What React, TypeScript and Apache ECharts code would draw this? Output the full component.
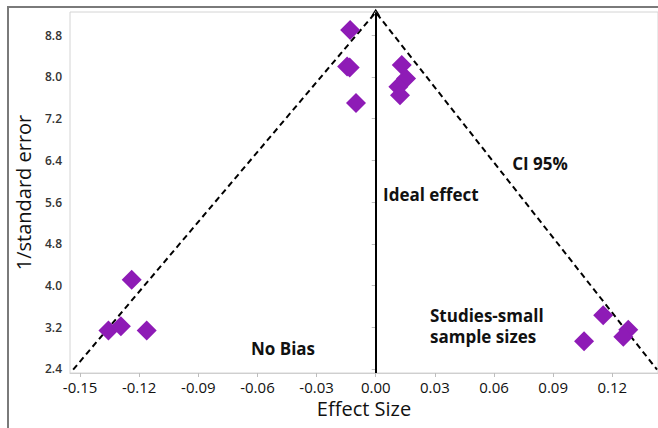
import React, { useEffect, useRef } from "react";
import * as echarts from "echarts";

// Study data
const effectSize = [
  -0.013, -0.0145, -0.0132, -0.01, 0.0132, 0.0154, 0.0115, 0.0123,
  -0.1238, -0.1356, -0.1293, -0.1162, 0.1154, 0.1281, 0.1256, 0.1057,
];
const precision = [
  8.9, 8.2, 8.18, 7.5, 8.23, 7.97, 7.81, 7.65,
  4.11, 3.14, 3.22, 3.14, 3.43, 3.15, 3.02, 2.93,
];

const xTicks = [-0.15, -0.12, -0.09, -0.06, -0.03, 0.0, 0.03, 0.06, 0.09, 0.12];
const yTicks = [2.4, 3.2, 4.0, 4.8, 5.6, 6.4, 7.2, 8.0, 8.8];

const xRange = [-0.1551, 0.1432];
const yRange = [2.323, 9.245];

// Funnel (CI 95%) lines: left end, apex, right end
const funnelX = [-0.1535, 0.0, 0.1427];
const funnelY = [2.387, 9.24, 2.387];

const idealEffect = 0.0;

const FONT = "'Open Sans', 'Noto Sans', sans-serif";

export default function App() {
  const ref = useRef<HTMLDivElement>(null);
  useEffect(() => {
    if (!ref.current) return;
    const chart = echarts.init(ref.current, undefined, { renderer: "svg" });
    const points = effectSize.map((x, i) => [x, precision[i]]);
    const funnel = funnelX.map((x, i) => [x, funnelY[i]]);
    const chevron = "path://M0,10 L5,0 L10,10 L8.4,10 L5,3.2 L1.6,10 Z";
    chart.setOption({
      animation: false,
      backgroundColor: "#ffffff",
      textStyle: { fontFamily: FONT },
      grid: {
        left: 70,
        top: 12,
        right: 0,
        bottom: 55,
        show: true,
        borderColor: "#d4d4d4",
        borderWidth: 1,
      },
      xAxis: {
        type: "value",
        min: xRange[0],
        max: xRange[1],
        name: "Effect Size",
        nameLocation: "middle",
        nameGap: 24,
        nameTextStyle: { fontSize: 20, color: "#111", fontFamily: FONT },
        splitLine: { show: false },
        axisLine: { show: true, lineStyle: { color: "#cfcfcf", width: 1 } },
        axisTick: {
          show: true,
          length: 4,
          lineStyle: { color: "#bdbdbd" },
          customValues: xTicks,
        },
        axisLabel: {
          customValues: xTicks,
          fontSize: 15,
          color: "#111",
          margin: 6,
          fontFamily: FONT,
          formatter: (v: number) => (Math.abs(v) < 1e-9 ? "0.00" : v.toFixed(2)),
        },
      },
      yAxis: {
        type: "value",
        min: yRange[0],
        max: yRange[1],
        name: "1/standard error",
        nameLocation: "middle",
        nameGap: 37,
        nameRotate: 90,
        nameTextStyle: { fontSize: 20, color: "#111", fontFamily: FONT },
        splitLine: { show: false },
        axisLine: { show: true, lineStyle: { color: "#cfcfcf", width: 1 } },
        axisTick: {
          show: true,
          length: 4,
          lineStyle: { color: "#bdbdbd" },
          customValues: yTicks,
        },
        axisLabel: {
          customValues: yTicks,
          fontSize: 12,
          fontWeight: 600,
          color: "#333",
          margin: 8,
          fontFamily: FONT,
          formatter: (v: number) => v.toFixed(1),
        },
      },
      series: [
        {
          type: "line",
          data: funnel,
          symbol: "none",
          lineStyle: { color: "#000", width: 2, type: [6, 4] },
          z: 2,
          silent: true,
          markLine: {
            silent: true,
            symbol: ["none", chevron],
            symbolSize: [9, 7],
            label: { show: false },
            lineStyle: { color: "#000", width: 2, type: "solid" },
            data: [[{ coord: [idealEffect, yRange[0]] }, { coord: [idealEffect, funnelY[1]] }]],
          },
        },
        {
          type: "scatter",
          data: points,
          symbol: "diamond",
          symbolSize: 20,
          itemStyle: { color: "#8e1bb6", opacity: 1 },
          z: 3,
        },
      ],
      graphic: [
        {
          type: "rect",
          shape: { x: 8, y: 7, width: 800, height: 600 },
          style: { fill: "none", stroke: "#7a7a7a", lineWidth: 2 },
          silent: true,
        },
        {
          type: "text",
          x: 540,
          y: 163,
          style: { text: "CI 95%", fontSize: 17, fontWeight: "bold", fontFamily: FONT, fill: "#111", align: "center", verticalAlign: "middle" },
        },
        {
          type: "text",
          x: 383,
          y: 194,
          style: { text: "Ideal effect", fontSize: 17, fontWeight: "bold", fontFamily: FONT, fill: "#111", align: "left", verticalAlign: "middle" },
        },
        {
          type: "text",
          x: 283,
          y: 348,
          style: { text: "No Bias", fontSize: 17, fontWeight: "bold", fontFamily: FONT, fill: "#111", align: "center", verticalAlign: "middle" },
        },
        {
          type: "text",
          x: 430,
          y: 315,
          style: { text: "Studies-small", fontSize: 17, fontWeight: "bold", fontFamily: FONT, fill: "#111", align: "left", verticalAlign: "middle" },
        },
        {
          type: "text",
          x: 430,
          y: 336,
          style: { text: "sample sizes", fontSize: 17, fontWeight: "bold", fontFamily: FONT, fill: "#111", align: "left", verticalAlign: "middle" },
        },
      ],
    });
    return () => chart.dispose();
  }, []);
  return (
    <div
      ref={ref}
      style={{ position: "fixed", left: 0, top: 0, width: 658, height: 428 }}
    />
  );
}
